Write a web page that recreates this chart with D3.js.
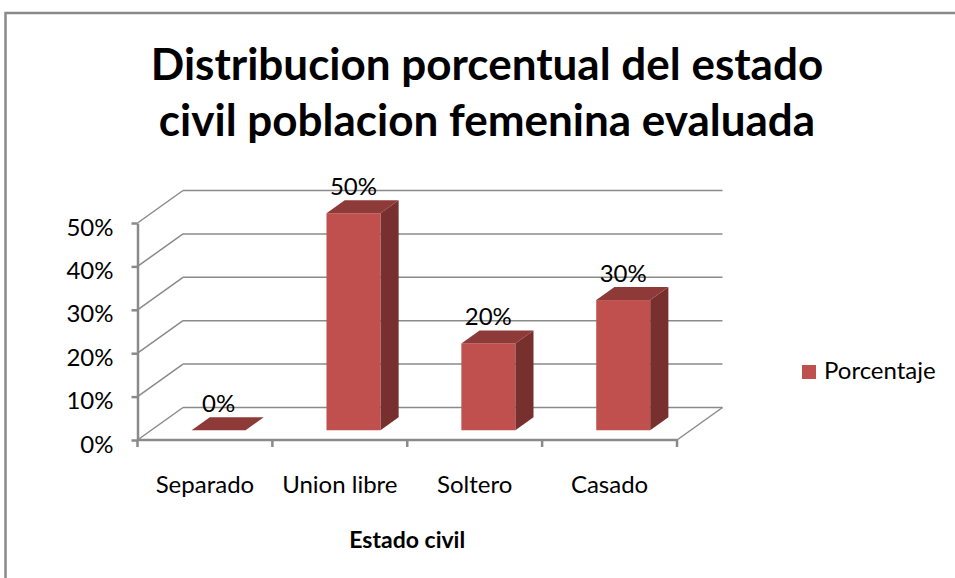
<!DOCTYPE html>
<html>
<head>
<meta charset="utf-8">
<script src="https://cdn.jsdelivr.net/npm/d3@7"></script>
<style>
  body { margin: 0; background: #fff; }
  text { font-family: Lato, "Open Sans", sans-serif; fill: #000; }
</style>
</head>
<body>
<svg width="955" height="578"></svg>
<script>
const categories = ["Separado", "Union libre", "Soltero", "Casado"];
const values = [0, 0.5, 0.2, 0.3];
const yTicks = [0, 0.1, 0.2, 0.3, 0.4, 0.5];
const seriesName = "Porcentaje";
const titleLines = ["Distribucion porcentual del estado", "civil poblacion femenina evaluada"];
const xTitle = "Estado civil";

const width = 955;
const height = 578;

// front plane of the 3d box and the depth offset
const x0 = 137.5, x1 = 677;
const depth = {dx: 45.5, dy: -32.5};
const barFront = 0.3, barBack = 0.7;   // where the bar sits in the depth
const barWidth = 0.4;                  // share of the category band

const frontColor = "#C0504D", topColor = "#8E3A38", sideColor = "#77302E";
const gridColor = "#8a8a8a";
const labelSize = 24;

const svg = d3.select("svg");

// outer frame (only left and top edges show)
svg.append("path")
  .attr("d", `M5.5,${height + 5}V13H${width + 5}`)
  .attr("fill", "none")
  .attr("stroke", "#8a8a8a")
  .attr("stroke-width", 2.5);

const x = d3.scaleBand()
  .domain(categories)
  .range([x0, x1]);

const y = d3.scaleLinear()
  .domain([0, 0.5])
  .range([440, 223]);

// title
svg.append("text")
  .attr("text-anchor", "middle")
  .attr("font-weight", "bold")
  .attr("font-size", 44)
  .selectAll("tspan")
  .data(titleLines)
  .join("tspan")
    .attr("x", 487)
    .attr("y", (d, i) => 80 + i * 56)
    .text(d => d);

// side wall and back wall gridlines
const grid = svg.append("g")
  .attr("stroke", gridColor)
  .attr("stroke-width", 1.5)
  .attr("fill", "none");

grid.selectAll(".side")
  .data(yTicks)
  .join("line")
    .attr("class", "side")
    .attr("x1", x0)
    .attr("y1", d => y(d))
    .attr("x2", x0 + depth.dx)
    .attr("y2", d => y(d) + depth.dy);

grid.selectAll(".back")
  .data(yTicks)
  .join("line")
    .attr("class", "back")
    .attr("x1", x0 + depth.dx)
    .attr("y1", d => y(d) + depth.dy)
    .attr("x2", x1 + depth.dx)
    .attr("y2", d => y(d) + depth.dy);

// floor right edge
grid.append("line")
  .attr("x1", x1)
  .attr("y1", y(0))
  .attr("x2", x1 + depth.dx)
  .attr("y2", y(0) + depth.dy);

// y axis
const yAxis = svg.append("g")
  .attr("transform", `translate(${x0},0)`)
  .call(d3.axisLeft(y)
    .tickValues(yTicks)
    .tickSize(6)
    .tickSizeOuter(0)
    .tickPadding(18)
    .tickFormat(d3.format(".0%")));

yAxis.select(".domain")
  .attr("stroke", gridColor)
  .attr("stroke-width", 2.5);
yAxis.selectAll(".tick line")
  .attr("stroke", gridColor)
  .attr("stroke-width", 2.5);
yAxis.selectAll(".tick text")
  .attr("font-family", "Lato, sans-serif")
  .attr("font-size", labelSize)
  .attr("dy", "0.5em")
  .attr("fill", "#000");

// x axis (ticks on band edges)
const xAxis = svg.append("g")
  .attr("stroke", gridColor)
  .attr("stroke-width", 2.5);

xAxis.append("line")
  .attr("x1", x0)
  .attr("x2", x1)
  .attr("y1", y(0))
  .attr("y2", y(0));

xAxis.selectAll(".xtick")
  .data(categories.map(c => x(c)).concat([x1]))
  .join("line")
    .attr("class", "xtick")
    .attr("x1", d => d)
    .attr("x2", d => d)
    .attr("y1", y(0))
    .attr("y2", y(0) + 7);

svg.append("g")
  .selectAll("text")
  .data(categories)
  .join("text")
    .attr("x", d => x(d) + x.bandwidth() / 2)
    .attr("y", 493)
    .attr("text-anchor", "middle")
    .attr("font-size", labelSize)
    .text(d => d);

svg.append("text")
  .attr("x", (x0 + x1) / 2)
  .attr("y", 548)
  .attr("text-anchor", "middle")
  .attr("font-weight", "bold")
  .attr("font-size", 23)
  .text(xTitle);

// bars
const bw = x.bandwidth() * barWidth;
const fdx = depth.dx * barFront, fdy = depth.dy * barFront;
const ddx = depth.dx * (barBack - barFront), ddy = depth.dy * (barBack - barFront);

const bars = svg.append("g")
  .selectAll("g")
  .data(categories.map((c, i) => ({cat: c, value: values[i]})))
  .join("g")
    .attr("transform", d => `translate(${x(d.cat) + (x.bandwidth() - bw) / 2 + fdx},${fdy})`);

bars.append("path")
  .attr("fill", sideColor)
  .attr("d", d => {
    const yt = y(d.value), yb = y(0);
    return `M${bw},${yb}L${bw + ddx},${yb + ddy}L${bw + ddx},${yt + ddy}L${bw},${yt}Z`;
  });

bars.append("rect")
  .attr("fill", frontColor)
  .attr("x", 0)
  .attr("y", d => y(d.value))
  .attr("width", bw)
  .attr("height", d => y(0) - y(d.value));

bars.append("path")
  .attr("fill", topColor)
  .attr("d", d => {
    const yt = y(d.value);
    return `M0,${yt}L${ddx},${yt + ddy}L${bw + ddx},${yt + ddy}L${bw},${yt}Z`;
  });

bars.append("text")
  .attr("x", bw / 2)
  .attr("y", d => y(d.value) + ddy - 5)
  .attr("text-anchor", "middle")
  .attr("font-size", labelSize)
  .text(d => d3.format(".0%")(d.value));

// legend
const legend = svg.append("g")
  .attr("transform", "translate(802,365)");

legend.append("rect")
  .attr("width", 14)
  .attr("height", 14)
  .attr("fill", frontColor);

legend.append("text")
  .attr("x", 22)
  .attr("y", 14)
  .attr("font-size", labelSize)
  .text(seriesName);
</script>
</body>
</html>
